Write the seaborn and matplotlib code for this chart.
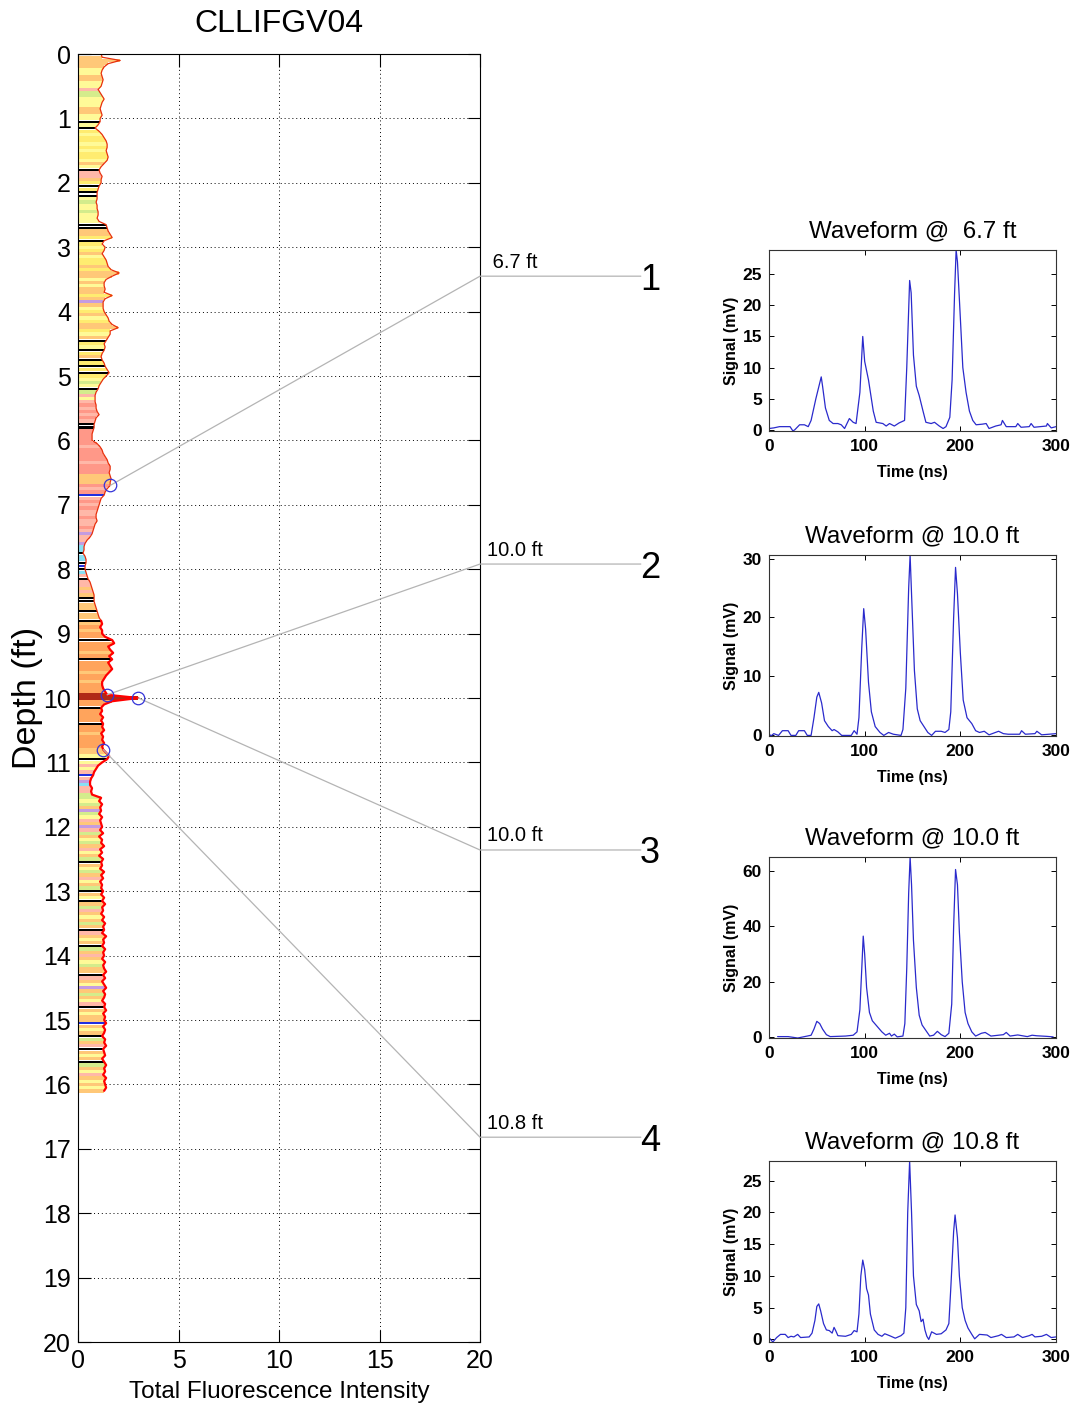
import numpy as np
import matplotlib
matplotlib.use("Agg")
import matplotlib.pyplot as plt
import seaborn as sns

# ---------------- data ----------------
# Total fluorescence intensity every 0.05 ft (rows of 1 ft)
int_ft00 = [1.15,1.2,2.1,1.5,1.3,1.2,1.15,1.2,1.25,1.2,1.15,1.0,1.1,1.2,1.3,1.2,1.15,1.1,1.15,1.2]
int_ft01 = [1.1,1.1,1.0,0.85,1.05,1.2,1.3,1.4,1.45,1.45,1.4,1.45,1.5,1.45,1.3,1.15,1.05,1.1,1.2,1.15]
int_ft02 = [1.15,1.05,1.0,0.95,0.95,0.95,0.9,0.95,0.95,1.0,1.0,0.95,1.05,1.4,1.45,1.5,1.6,1.7,1.3,1.2]
int_ft03 = [1.35,1.3,1.2,1.3,1.4,1.45,1.5,1.65,2.05,1.7,1.4,1.3,1.3,1.35,1.3,1.7,1.35,1.25,1.25,1.25]
int_ft04 = [1.3,1.4,1.5,1.55,1.7,2.0,1.6,1.6,1.5,1.4,1.3,1.35,1.3,1.2,1.15,1.2,1.3,1.35,1.45,1.55]
int_ft05 = [1.4,1.25,1.15,1.05,1.0,0.9,0.85,0.85,0.85,0.9,0.9,0.95,1.05,0.9,0.85,0.8,0.8,0.75,0.7,0.7]
int_ft06 = [0.7,0.95,1.1,1.2,1.25,1.35,1.45,1.5,1.6,1.6,1.55,1.6,1.65,1.6,1.6,1.45,1.35,1.3,1.15,1.1]
int_ft07 = [1.05,1.0,0.95,0.9,0.9,0.95,0.85,0.8,0.75,0.7,0.6,0.45,0.35,0.3,0.3,0.25,0.35,0.4,0.4,0.35]
int_ft08 = [0.35,0.4,0.45,0.5,0.6,0.65,0.7,0.75,0.8,0.8,0.8,0.85,0.9,0.95,1.0,1.05,1.15,1.2,1.1,1.2]
int_ft09 = [1.2,1.35,1.7,1.8,1.5,1.6,1.75,1.55,1.7,1.5,1.6,1.7,1.55,1.4,1.3,1.2,1.2,1.25,1.35,1.45]
int_ft10 = [3.0,1.7,1.3,1.15,1.2,1.1,1.25,1.15,1.25,1.2,1.3,1.15,1.25,1.2,1.3,1.2,1.25,1.4,1.55,1.45]
int_ft11 = [1.2,1.0,0.9,0.8,0.75,0.65,0.6,0.6,0.7,0.65,0.7,1.15,1.05,1.2,1.1,1.15,1.05,1.2,1.1,1.15]
int_ft12 = [1.2,1.1,1.25,1.05,1.2,1.15,1.3,1.1,1.2,1.05,1.25,1.15,1.2,1.1,1.3,1.15,1.25,1.1,1.2,1.15]
int_ft13 = [1.25,1.15,1.3,1.2,1.35,1.2,1.25,1.15,1.3,1.2,1.35,1.25,1.3,1.2,1.4,1.25,1.3,1.2,1.35,1.25]
int_ft14 = [1.3,1.2,1.35,1.25,1.3,1.4,1.25,1.35,1.2,1.3,1.4,1.25,1.35,1.3,1.2,1.35,1.3,1.4,1.25,1.35]
int_ft15 = [1.3,1.4,1.25,1.35,1.3,1.2,1.35,1.3,1.4,1.25,1.3,1.35,1.2,1.3,1.4,1.3,1.35,1.25,1.4,1.3]
int_ft16 = [1.35,1.4,1.3]

# Soil-class colour code per 0.05 ft sample (rows of 1 ft)
band_rows = [
    "kooooYYooYYpggYYYooY",
    "YkYkyYyyYyYyyYoYkppo",
    "ykykkYgYYgYYYkkooyky",
    "YyoYyyoyooYoYooyovoY",
    "yoYyooyYokyYkyokykyk",
    "yYgYkgpYpspspspkksss",
    "sspsssspsssooospsbps",
    "psppsppspvppvcckcckb",
    "kcpkppopokkookookoOo",
    "OOkOOOoOkOOOoOOoOOOr",
    "rOOkOOOOkOOoOOOOooYk",
    "YpYpbpvcppggYgovgYpo",
    "vpgoYgopYogkoYgopYog",
    "koYkogpoYogokpoYokgo",
    "poYgookpoYvogoYpkoYo",
    "oboYokgopkoYokgoYpoY",
    "oYo",
]
band_palette = {
    "Y": "#FFFA98", "y": "#FFEC70", "o": "#FFC878", "O": "#FFA45C",
    "s": "#FF9888", "p": "#FFB8A8", "g": "#D4EC8C", "v": "#C49CE0",
    "k": "#000000", "b": "#2030E0", "c": "#88E0F4", "r": "#B02A18",
}

# Waveform sample points
sample_depths = [6.7, 9.95, 10.0, 10.8]
sample_values = [1.6, 1.45, 3.0, 1.25]
sample_labels = [" 6.7 ft", "10.0 ft", "10.0 ft", "10.8 ft"]
sample_ids = ["1", "2", "3", "4"]

wf1_t = [0,5,11,22,25,27,32,37,41,44,49,54.6,56,59,63,67,72,75.5,79,84,88,91,95,98,100,104,109,112,119,122.5,
         126,131,136,141.7,144,147,148.6,151,154,157,161,164,169.5,173,178,182,185,189,191.4,194,195.6,197,200,
         202.6,206,209.5,213,216.5,223,227,230,237,242.6,244,248,258,260,263.5,272,274,277,290,291,295,300]
wf1_v = [0.2,0.3,0.5,0.5,-0.2,0,0.8,0.8,0.5,1.5,5,8.5,7,3.5,1.5,1.0,1.0,0.8,0.2,1.8,1.2,1.0,6,15,11,8,3,1.2,1.0,0.6,
         1.0,0.6,1.1,1.5,10,24,22,12,7,5.5,3,1.2,1.0,1.2,0.6,0.2,0.5,2,8,22,28.9,27,18,
         10,6,3,1.5,0.8,0.9,1.0,0.2,0.6,0.8,1.5,0.5,0.5,1.0,0.4,0.5,1.0,0.4,0.6,1.0,0.3,0.5]

wf2_t = [0,2,5,10,14,20,23,28,31,37,40,44,47,50,52,55,58,62,66,68,72,76,86,89,92,94,97,99,101,104,107,111,116,120,
         125,130,138,140,143,146,147.5,149,152,155,158,162,166,170,174,180,184,188,190,193,195,197,200,203,207,212,
         216,220,225,230,240,245,250,262,264,268,278,280,285,300]
wf2_v = [0.3,-0.1,0.3,0,0.8,0.8,0,0,0.8,0.8,0,0,3,6.5,7.3,5.5,2.5,1.5,0.8,1.0,0.6,0,0,0.8,0.2,3,15,21.5,18,9,4,1.5,0.5,0,
         0.5,0.2,0,1.0,8,25,30.6,24,11,4.5,2.5,1.5,0.5,0,0.7,0.7,0.5,1.0,4,20,28.5,24,14,6,3,2,
         0.8,0.5,0.7,0.1,0.7,0.3,0.2,0.2,0.8,0.2,0.3,0.7,0.1,0.3]

wf3_t = [9,20,30,40,44,47,50,53,56,60,64,80,88,92,95,97,98.5,100,102,105,108,113,118,122,126,128,131,134,140,142,
         144,146,147.5,149,151,154,157,160,165,168,172,176,180,184,188,191,193,195,197,199,202,205,208,212,216,
         222,226,232,245,248,252,260,270,275,280,290,297]
wf3_v = [0.3,0.3,-0.2,0.5,0.8,3,5.8,5,3,1,0.3,0.5,0.8,2,10,25,36.5,30,18,9,6,4,2,0.8,1.5,0.5,1.2,0.2,0.5,5,
         25,52,65,55,35,18,8,4.5,2,0.5,0.8,2.2,1.0,0.3,1.5,12,40,60.5,55,38,20,9,5,2,0.5,
         1.5,1.8,0.5,1.0,1.8,0.5,0.9,0.3,0.8,0.6,0.4,0.2]

wf4_t = [0,4,8,12,17,20,23,26,30,33,42,45,48,50,52,54,57,60,63,66,68,70,72,80,86,89,92,94,96,98,100,102,104,106,110,
         114,118,121,126,132,138,141,143,145,147,149,151,154,157,159,161,163,165,167,170,175,180,185,188,190,193,
         194.5,197,199,202,205,208,212,215,220,228,232,240,243,248,256,260,265,272,275,278,285,290,295,300]
wf4_v = [0.3,-0.4,0.3,0.8,0.8,0.3,0.5,0.4,0.8,0.3,0.4,1,3,5.2,5.6,4.5,2.5,1.5,1.4,1.0,1.9,1.3,0.6,0.5,0.8,1.4,1.2,4,10,12.5,
         11,8,7,4,1.5,0.8,0.5,0.9,0.6,0.2,0.6,1.0,5,20,28.1,20,10,5.5,4.5,2.8,3.2,1.5,0.5,0,1.2,0.8,0.9,1.5,2.5,8,17,
         19.6,16,10,5,3,1.8,0.8,0.1,0.8,0.7,0.3,0.6,0.8,0.3,0.4,0.8,0.3,0.6,0.8,0.4,0.5,0.8,0.3,0.4]

wf_times = [wf1_t, wf2_t, wf3_t, wf4_t]
wf_signals = [wf1_v, wf2_v, wf3_v, wf4_v]
wf_titles = ["Waveform @  6.7 ft", "Waveform @ 10.0 ft", "Waveform @ 10.0 ft", "Waveform @ 10.8 ft"]
wf_ytick_steps = [5, 10, 20, 5]

# ---------------- figure ----------------
sns.set_style("ticks")
plt.rcParams["font.family"] = ["Liberation Sans", "DejaVu Sans"]
plt.rcParams["text.color"] = "black"
plt.rcParams["axes.labelcolor"] = "black"
plt.rcParams["xtick.color"] = "black"
plt.rcParams["ytick.color"] = "black"

intensity = np.array(int_ft00 + int_ft01 + int_ft02 + int_ft03 + int_ft04 + int_ft05 + int_ft06 + int_ft07 +
                     int_ft08 + int_ft09 + int_ft10 + int_ft11 + int_ft12 + int_ft13 + int_ft14 + int_ft15 + int_ft16)
codes = "".join(band_rows)
depth = np.arange(len(intensity)) * 0.05

fig = plt.figure(figsize=(10.77, 14.08), dpi=100)
ax = fig.add_axes([78/1077, 1-1342/1408, 402/1077, 1288/1408])

ax.set_axisbelow(True)
ax.grid(True, linestyle=(0, (1, 3)), color="black", linewidth=0.7)
is_line = np.array([c in "kb" for c in codes])
colors = np.array([band_palette[c] for c in codes])
ax.barh(depth[~is_line], intensity[~is_line], height=0.052, color=colors[~is_line], linewidth=0, align="center")
ax.barh(depth[is_line], intensity[is_line], height=0.032, color=colors[is_line], linewidth=0, align="center")

upper = depth <= 8.8
lower = depth >= 8.8
sns.lineplot(x=intensity[upper], y=depth[upper], ax=ax, sort=False, estimator=None, color="#E8300C", lw=0.9)
sns.lineplot(x=intensity[lower], y=depth[lower], ax=ax, sort=False, estimator=None, color="#FF0000", lw=1.6)

label_depths = [3.45, 7.92, 12.36, 16.82]
for d, v, lab, sid, ld in zip(sample_depths, sample_values, sample_labels, sample_ids, label_depths):
    ax.plot([v, 20, 28], [d, ld, ld], color="#B4B4B4", lw=0.9, clip_on=False, zorder=4)
    ax.text(20.35, ld - 0.07, lab, fontsize=14.5, va="bottom", ha="left", clip_on=False)
    ax.text(27.95, ld, sid, fontsize=26, va="center_baseline", ha="left", clip_on=False)
ax.plot(sample_values, sample_depths, "o", mfc="none", mec="#3434D8", ms=9, mew=0.9, zorder=5)

ax.set_xlim(0, 20)
ax.set_ylim(20, 0)
ax.set_xticks([0, 5, 10, 15, 20])
ax.set_yticks(range(0, 21))
ax.tick_params(direction="in", length=9, width=0.8, top=True, right=True, labelsize=18, pad=5)
for sp in ax.spines.values():
    sp.set_visible(True)
    sp.set_color("black")
    sp.set_linewidth(0.8)
ax.set_title("CLLIFGV04", fontsize=23, pad=16)
ax.set_xlabel("Total Fluorescence Intensity", fontsize=17.5, labelpad=6)
ax.set_ylabel("Depth (ft)", fontsize=24.5)
ax.yaxis.set_label_coords(-0.088, 0.5)

wf_tops = [250, 555, 857, 1161]
for i in range(4):
    top = wf_tops[i]
    wax = fig.add_axes([769/1077, 1-(top+181)/1408, 287/1077, 181/1408])
    sns.lineplot(x=wf_times[i], y=wf_signals[i], ax=wax, sort=False, estimator=None, color="#2A2ACC", lw=0.9)
    wax.set_xlim(0, 300)
    wax.set_ylim(min(wf_signals[i]), max(wf_signals[i]))
    wax.set_xticks([0, 100, 200, 300])
    wax.yaxis.set_major_locator(matplotlib.ticker.MultipleLocator(wf_ytick_steps[i]))
    wax.tick_params(direction="in", length=3.5, width=0.7, top=True, right=True, labelsize=12.5, pad=6)
    wax.tick_params(axis="y", pad=5)
    for lab in wax.get_xticklabels() + wax.get_yticklabels():
        lab.set_fontweight("bold")
    for sp in wax.spines.values():
        sp.set_visible(True)
        sp.set_color("#333333")
        sp.set_linewidth(0.8)
    wax.set_title(wf_titles[i], fontsize=17.4, pad=9)
    wax.set_xlabel("Time (ns)", fontsize=11.5, fontweight="bold", labelpad=8)
    wax.set_ylabel("Signal (mV)", fontsize=11.5, fontweight="bold")
    wax.yaxis.set_label_coords(-0.105, 0.5)

fig.savefig("out.png", dpi=100, facecolor="white")
